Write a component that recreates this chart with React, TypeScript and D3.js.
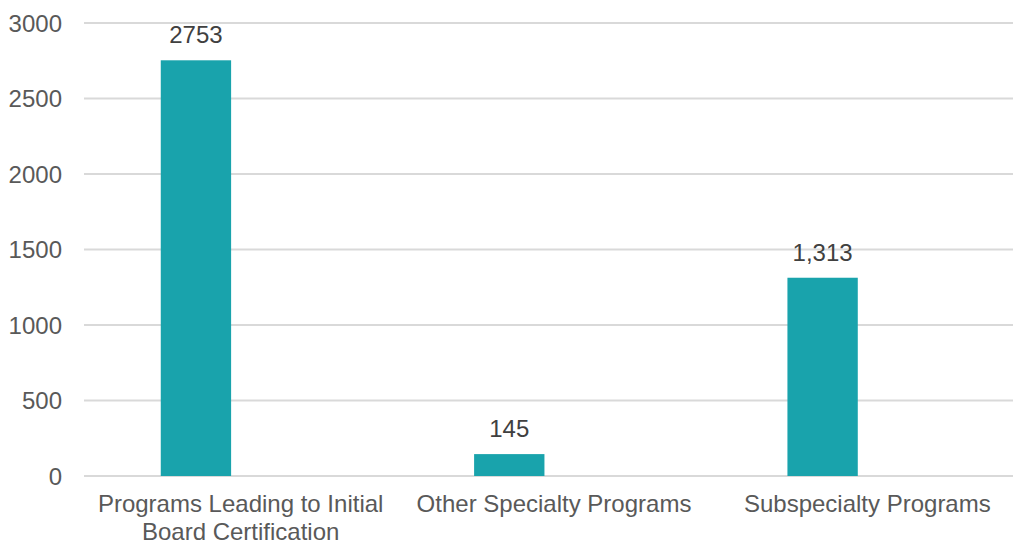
import React from "react";
import * as d3 from "d3";

const categories = [
  "Programs Leading to Initial Board Certification",
  "Other Specialty Programs",
  "Subspecialty Programs",
];
const values = [2753, 145, 1313];
const valueLabels = ["2753", "145", "1,313"];
const yTicks = [0, 500, 1000, 1500, 2000, 2500, 3000];

const W = 1013;
const H = 542;
const FONT = "'Liberation Sans', Arial, sans-serif";
const FS = 24;

function wrap(text: string, maxW: number): string[] {
  const canvas = document.createElement("canvas");
  const ctx = canvas.getContext("2d")!;
  ctx.font = `${FS}px 'Liberation Sans'`;
  const words = text.split(" ");
  const lines: string[] = [];
  let cur = "";
  for (const w of words) {
    const t = cur ? cur + " " + w : w;
    if (ctx.measureText(t).width > maxW && cur) {
      lines.push(cur);
      cur = w;
    } else cur = t;
  }
  if (cur) lines.push(cur);
  return lines;
}

export default function App() {
  const left = 84;
  const right = 1024;
  const top = 23;
  const bottom = 476;

  const x = d3.scaleBand<string>().domain(categories).range([left, right]).padding(0);
  const y = d3.scaleLinear().domain([0, 3000]).range([bottom, top]);
  const bw = x.bandwidth();
  const barOff = bw * 0.245;
  const barW = bw * 0.2245;

  return (
    <svg width={W} height={H} style={{ position: "absolute", left: 0, top: 0, background: "#fff" }}>
      {yTicks.map((t) => (
        <g key={t}>
          <line x1={left} x2={right} y1={y(t)} y2={y(t)} stroke="#d9d9d9" strokeWidth={2} />
          <text
            x={62}
            y={y(t)}
            textAnchor="end"
            dominantBaseline="central"
            fontFamily={FONT}
            fontSize={FS}
            fill="#595959"
          >
            {t}
          </text>
        </g>
      ))}
      {categories.map((c, i) => {
        const bx = (x(c) as number) + barOff;
        const cx = (x(c) as number) + bw / 2;
        const lines = wrap(c, 300);
        return (
          <g key={c}>
            <rect x={bx} y={y(values[i])} width={barW} height={y(0) - y(values[i])} fill="#19A3AC" />
            <text
              x={bx + barW / 2}
              y={y(values[i]) - 17}
              textAnchor="middle"
              fontFamily={FONT}
              fontSize={FS}
              fill="#404040"
            >
              {valueLabels[i]}
            </text>
            {lines.map((l, j) => (
              <text
                key={j}
                x={cx}
                y={512 + j * 28}
                textAnchor="middle"
                fontFamily={FONT}
                fontSize={FS}
                fill="#595959"
              >
                {l}
              </text>
            ))}
          </g>
        );
      })}
    </svg>
  );
}
